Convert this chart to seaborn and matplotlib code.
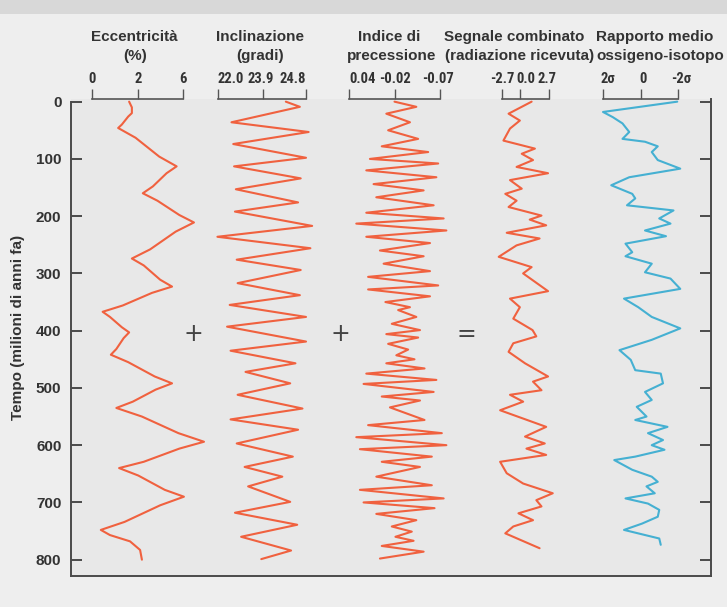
import matplotlib
matplotlib.use("Agg")
import matplotlib.pyplot as plt
import seaborn as sns
from matplotlib.patches import Rectangle
from matplotlib import font_manager

# ---------------- data ----------------
# time axis (millions of years ago)
time_ticks = [0, 100, 200, 300, 400, 500, 600, 700, 800]

# positions are given along each column's own scale: 0 = left tick, 1 = right tick
ecc_t = [0, 10, 20, 26, 40, 46, 63, 96, 113, 125, 148, 160, 173, 198, 211, 227, 258, 274, 286, 311,
         323, 334, 356, 367, 376, 394, 403, 413, 432, 442, 455, 480, 492, 503, 524, 535, 550, 579, 594, 606,
         629, 640, 653, 678, 690, 705, 734, 748, 757, 768, 783, 800]
ecc_v = [0.41, 0.44, 0.44, 0.40, 0.33, 0.29, 0.48, 0.74, 0.93, 0.82, 0.67, 0.56, 0.72, 0.96, 1.12, 0.92, 0.64, 0.44, 0.57, 0.75,
         0.88, 0.66, 0.34, 0.12, 0.20, 0.33, 0.41, 0.35, 0.27, 0.21, 0.40, 0.69, 0.88, 0.70, 0.45, 0.27, 0.55, 0.95, 1.23, 0.96,
         0.57, 0.30, 0.51, 0.80, 1.01, 0.75, 0.36, 0.10, 0.20, 0.42, 0.53, 0.55]

inc_t = [0, 9, 36, 53, 74, 98, 113, 134, 153, 176, 192, 217, 236, 256, 276, 294, 317, 338, 355, 376,
         393, 419, 435, 457, 472, 492, 512, 536, 555, 573, 597, 620, 638, 655, 672, 699, 718, 739, 760, 784, 799]
inc_v = [0.77, 0.93, 0.15, 1.03, 0.17, 1.00, 0.18, 0.94, 0.20, 0.91, 0.19, 1.07, -0.01, 1.05, 0.21, 0.94, 0.22, 0.93, 0.13, 1.00,
         0.10, 1.00, 0.14, 0.88, 0.31, 0.82, 0.22, 0.96, 0.14, 0.91, 0.21, 0.85, 0.30, 0.73, 0.34, 0.82, 0.19, 0.90, 0.26, 0.83, 0.49]

pre_t = [0, 9, 21, 36, 50, 65, 78, 88, 100, 108, 120, 132, 144, 155, 167, 181, 194, 204, 213, 225,
         236, 247, 260, 270, 283, 296, 306, 321, 328, 340, 350, 359, 364, 376, 388, 399, 406, 412, 423, 433,
         443, 450, 457, 466, 475, 486, 493, 507, 515, 522, 534, 556, 565, 579, 586, 600, 607, 620, 629, 638,
         655, 670, 678, 693, 700, 710, 720, 731, 742, 751, 760, 767, 776, 786, 798]
pre_v = [0.50, 0.74, 0.41, 0.67, 0.43, 0.76, 0.36, 0.87, 0.23, 0.98, 0.19, 0.96, 0.27, 0.82, 0.30, 0.93, 0.19, 1.04, 0.08, 1.07,
         0.19, 0.89, 0.34, 0.82, 0.38, 0.89, 0.21, 0.98, 0.21, 0.89, 0.40, 0.67, 0.54, 0.74, 0.47, 0.78, 0.41, 0.76, 0.43, 0.65,
         0.52, 0.72, 0.41, 0.83, 0.19, 0.96, 0.16, 0.93, 0.36, 0.78, 0.45, 0.83, 0.21, 1.02, 0.08, 1.07, 0.12, 0.91, 0.36, 0.78,
         0.30, 0.91, 0.12, 1.04, 0.16, 0.94, 0.30, 0.74, 0.47, 0.69, 0.51, 0.71, 0.36, 0.82, 0.34]

com_t = [0, 21, 33, 47, 68, 82, 91, 102, 114, 125, 137, 152, 161, 173, 184, 199, 206, 216, 229, 239,
         251, 271, 289, 300, 331, 344, 359, 379, 399, 410, 422, 437, 457, 480, 489, 504, 512, 524, 539, 568,
         585, 597, 606, 617, 629, 649, 667, 684, 696, 707, 719, 731, 742, 754, 780]
com_v = [0.63, 0.14, 0.38, 0.17, 0.03, 0.70, 0.42, 0.66, 0.31, 0.98, 0.17, 0.42, 0.07, 0.31, 0.14, 0.84, 0.59, 0.94, 0.10, 0.80,
         0.31, -0.07, 0.63, 0.45, 0.98, 0.17, 0.38, 0.24, 0.65, 0.73, 0.24, 0.14, 0.49, 0.98, 0.66, 0.84, 0.17, 0.45, -0.04, 0.94,
         0.49, 0.91, 0.52, 0.94, -0.04, 0.10, 0.45, 1.08, 0.73, 0.84, 0.35, 0.66, 0.24, 0.07, 0.80]

oxy_t = [0, 18, 27, 38, 53, 65, 70, 78, 88, 102, 117, 132, 146, 161, 169, 181, 190, 204, 213, 225,
         235, 248, 263, 270, 283, 298, 309, 327, 344, 359, 376, 396, 416, 434, 451, 469, 475, 492, 507, 521,
         533, 550, 556, 568, 579, 591, 600, 608, 620, 626, 643, 655, 664, 672, 684, 693, 702, 713, 725, 737,
         748, 763, 774]
oxy_v = [0.99, 0.00, 0.13, 0.26, 0.35, 0.26, 0.56, 0.73, 0.65, 0.73, 1.03, 0.35, 0.11, 0.39, 0.43, 0.32, 0.94, 0.75, 0.90, 0.56,
         0.84, 0.30, 0.39, 0.30, 0.65, 0.56, 0.90, 1.03, 0.28, 0.47, 0.65, 1.03, 0.65, 0.22, 0.37, 0.43, 0.77, 0.80, 0.56, 0.65,
         0.45, 0.58, 0.43, 0.86, 0.60, 0.80, 0.65, 0.82, 0.43, 0.15, 0.39, 0.65, 0.73, 0.58, 0.69, 0.30, 0.60, 0.75, 0.73, 0.52,
         0.28, 0.75, 0.77]

ecc_ticks = ["0", "2", "6"]
inc_ticks = ["22.0", "23.9", "24.8"]
pre_ticks = ["0.04", "-0.02", "-0.07"]
com_ticks = ["-2.7", "0.0", "2.7"]
oxy_ticks = ["2\u03c3", "0", "-2\u03c3"]

ecc_title = ["Eccentricità", "(%)"]
inc_title = ["Inclinazione", "(gradi)"]
pre_title = ["Indice di", "precessione"]
com_title = ["Segnale combinato", "(radiazione ricevuta)"]
oxy_title = ["Rapporto medio", "ossigeno-isotopo"]

y_label = "Tempo (milioni di anni fa)"

# ---------------- styling / layout ----------------
sns.set_style("white")
plt.rcParams["font.family"] = ["Liberation Sans", "DejaVu Sans"]

# a narrow face for the scale numbers, if one is installed
installed = {f.name for f in font_manager.fontManager.ttflist}
NARROW = None
for cand in ["Liberation Sans Narrow", "DejaVu Sans Condensed", "Roboto Condensed", "Open Sans Condensed"]:
    if cand in installed:
        NARROW = cand
        break
tick_family = [NARROW, "DejaVu Sans"] if NARROW else ["Liberation Sans", "DejaVu Sans"]
tick_size = 10.5 if NARROW else 9.3

W, H = 727, 607
RED = "#f0613f"
BLUE = "#45b0d2"
TXT = "#333333"
AXC = "#4a4a4a"

fig = plt.figure(figsize=(W / 100, H / 100), dpi=100, facecolor="#eeeeee")
fig.patches.append(Rectangle((0, 1 - 14 / H), 1, 14 / H, transform=fig.transFigure,
                             facecolor="#d8d8d8", edgecolor="none", zorder=0))

def fx(px):
    return px / W

def fy(py):
    return 1 - py / H

FL, FR, FT, FB = 70.5, 711.0, 98.8, 576.0
T_TOP, T_BOT = -5, 828.5

ax = fig.add_axes([fx(FL), fy(FB), fx(FR - FL), (FB - FT) / H])
ax.set_facecolor("#e8e8e8")
ax.set_xlim(0, 1)
ax.set_ylim(T_BOT, T_TOP)
ax.set_xticks([])
ax.set_yticks(time_ticks)
ax.set_yticklabels([str(v) for v in time_ticks], fontweight="bold", color=TXT)
ax.tick_params(axis="y", direction="in", length=8, width=1.4, colors=AXC, labelcolor=TXT,
               left=True, right=True, labelsize=11, pad=6.5)
ax.spines["top"].set_visible(False)
ax.spines["left"].set_bounds(0, T_BOT)
for sp in ["left", "bottom", "right"]:
    ax.spines[sp].set_color(AXC)
    ax.spines[sp].set_linewidth(1.4)
ax.set_ylabel(y_label, fontsize=11, fontweight="bold", color=TXT)
ax.yaxis.set_label_coords(-0.071, 0.52)

# operators between the columns
for xs, s in [(0.192, "+"), (0.421, "+"), (0.618, "=")]:
    ax.text(xs, 405, s, fontsize=17, ha="center", va="center", color="#444444",
            family=["DejaVu Sans"])

columns = [
    # bracket left px, right px, tick marks, label positions, labels, title, title x (px), t, v, colour
    (91.7, 183, [0, 0.51, 1], [0, 0.51, 1.0], ecc_ticks, ecc_title, [134, 135], ecc_t, ecc_v, RED),
    (218.3, 306, [0, 0.513, 1], [0.14, 0.485, 0.85], inc_ticks, inc_title, [260, 260], inc_t, inc_v, RED),
    (349, 440, [0, 0.505, 1], [0.15, 0.51, 0.98], pre_ticks, pre_title, [389, 392], pre_t, pre_v, RED),
    (502, 549, [0, 0.385, 1], [0.0, 0.50, 0.95], com_ticks, com_title, [514, 520], com_t, com_v, RED),
    (603, 681, [0, 0.505, 1], [0.06, 0.54, 1.04], oxy_ticks, oxy_title, [655, 660], oxy_t, oxy_v, BLUE),
]

for L, R, marks, lpos, tlab, title, tx, tt, vv, col in columns:
    axc = fig.add_axes([fx(L), fy(FB), fx(R - L), (FB - FT) / H])
    axc.set_facecolor("none")
    sns.lineplot(x=vv, y=tt, sort=False, estimator=None, ax=axc, color=col,
                 lw=1.5, clip_on=False)
    axc.set_xlim(0, 1)
    axc.set_ylim(T_BOT, T_TOP)
    for sp in ["left", "right", "bottom"]:
        axc.spines[sp].set_visible(False)
    axc.spines["top"].set_bounds(0, 1)
    axc.spines["top"].set_color("#555555")
    axc.spines["top"].set_linewidth(1.2)
    axc.set_yticks([])
    axc.xaxis.remove_overlapping_locs = False
    axc.xaxis.tick_top()
    axc.set_xticks(lpos)
    axc.set_xticklabels(tlab, fontweight="bold", color=TXT, family=tick_family)
    axc.set_xticks(marks, minor=True)
    axc.tick_params(axis="x", which="major", top=True, bottom=False, length=0,
                    labelcolor=TXT, labelsize=tick_size, pad=9)
    axc.tick_params(axis="x", which="minor", top=True, bottom=False, direction="out",
                    length=7, width=1.0, colors="#555555")
    axc.set_xlabel("")
    axc.set_ylabel("")
    for line_txt, x_px, y_px in zip(title, tx, [37, 56]):
        fig.text(fx(x_px), fy(y_px), line_txt, ha="center", va="center", fontsize=11,
                 fontweight="bold", color=TXT)

fig.savefig("out.png", dpi=100, facecolor=fig.get_facecolor())
